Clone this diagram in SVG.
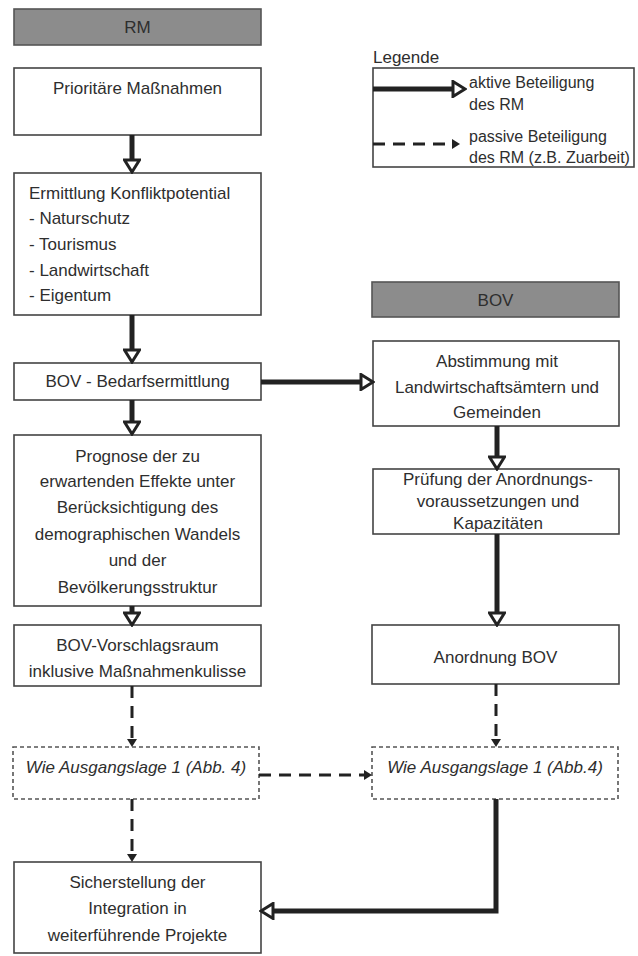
<svg xmlns="http://www.w3.org/2000/svg" width="638" height="956" viewBox="0 0 638 956">
<style>
text{font-family:"Liberation Sans",Arial,sans-serif;font-size:17px;fill:#2e2e2e}
.c{text-anchor:middle}
.it{font-style:italic}
.lg{font-size:16px}
.box{fill:#fff;stroke:#444;stroke-width:1.6}
.hdr{fill:#8c8c8c;stroke:#555;stroke-width:1.6}
.dbox{fill:#fff;stroke:#555;stroke-width:1.6;stroke-dasharray:4 3}
.sol{fill:none;stroke:#222;stroke-width:5;marker-end:url(#ah)}
.das{fill:none;stroke:#222;stroke-width:3;stroke-dasharray:12 8;marker-end:url(#ahd)}
</style>
<defs>
<marker id="ah" markerUnits="userSpaceOnUse" markerWidth="16" markerHeight="18" viewBox="0 0 16 18" refX="2" refY="9" orient="auto">
<path d="M2,1.5 L14,9 L2,16.5 Z" fill="#fff" stroke="#222" stroke-width="3" stroke-linejoin="miter"/>
</marker>
<marker id="ahd" markerUnits="userSpaceOnUse" markerWidth="12" markerHeight="12" viewBox="0 0 12 12" refX="1" refY="6" orient="auto">
<path d="M1,1 L9,6 L1,11 Z" fill="#222"/>
</marker>
</defs>

<g id="rm-header"><rect class="hdr" x="14" y="9" width="247" height="36"/><text class="c" x="137.5" y="33">RM</text></g>
<g id="prioritaere"><rect class="box" x="14" y="68" width="247" height="67"/><text class="c" x="137.5" y="94">Prioritäre Maßnahmen</text></g>
<g id="ermittlung"><rect class="box" x="14" y="173" width="247" height="142"/>
<text x="29" y="199">Ermittlung Konfliktpotential</text>
<text x="29" y="224">- Naturschutz</text>
<text x="29" y="250">- Tourismus</text>
<text x="29" y="276">- Landwirtschaft</text>
<text x="29" y="301">- Eigentum</text></g>
<g id="bedarf"><rect class="box" x="14" y="363" width="247" height="37"/><text class="c" x="137.5" y="387">BOV - Bedarfsermittlung</text></g>
<g id="prognose"><rect class="box" x="14" y="435" width="247" height="171"/>
<text class="c" x="137.5" y="462">Prognose der zu</text>
<text class="c" x="137.5" y="487">erwartenden Effekte unter</text>
<text class="c" x="137.5" y="513">Berücksichtigung des</text>
<text class="c" x="137.5" y="540">demographischen Wandels</text>
<text class="c" x="137.5" y="566">und der</text>
<text class="c" x="137.5" y="593">Bevölkerungsstruktur</text></g>
<g id="vorschlag"><rect class="box" x="14" y="625" width="247" height="61"/>
<text class="c" x="137.5" y="651">BOV-Vorschlagsraum</text>
<text class="c" x="137.5" y="677">inklusive Maßnahmenkulisse</text></g>
<g id="wie-left"><rect class="dbox" x="13" y="747" width="246" height="52"/><text class="c it" x="136" y="773">Wie Ausgangslage 1  (Abb. 4)</text></g>
<g id="sicherstellung"><rect class="box" x="14" y="862" width="247" height="91"/>
<text class="c" x="137.5" y="888">Sicherstellung der</text>
<text class="c" x="137.5" y="914">Integration in</text>
<text class="c" x="137.5" y="941">weiterführende Projekte</text></g>

<g id="legend"><text x="373" y="63">Legende</text>
<rect x="373" y="68" width="261" height="99" fill="none" stroke="#444" stroke-width="1.6"/>
<text class="lg" x="469" y="88">aktive Beteiligung</text>
<text class="lg" x="469" y="110">des RM</text>
<text class="lg" x="469" y="142">passive Beteiligung</text>
<text class="lg" x="469" y="163">des RM (z.B. Zuarbeit)</text></g>

<g id="bov-header"><rect class="hdr" x="372" y="282" width="247" height="35"/><text class="c" x="495.5" y="306">BOV</text></g>
<g id="abstimmung"><rect class="box" x="373" y="341" width="246" height="85"/>
<text class="c" x="497" y="367">Abstimmung mit</text>
<text class="c" x="497" y="393">Landwirtschaftsämtern und</text>
<text class="c" x="497" y="418">Gemeinden</text></g>
<g id="pruefung"><rect class="box" x="373" y="469" width="246" height="65"/>
<text class="c" x="498" y="485">Prüfung der Anordnungs-</text>
<text class="c" x="498" y="507">voraussetzungen und</text>
<text class="c" x="498" y="529">Kapazitäten</text></g>
<g id="anordnung"><rect class="box" x="372" y="625" width="247" height="59"/><text class="c" x="495.5" y="663">Anordnung BOV</text></g>
<g id="wie-right"><rect class="dbox" x="372" y="747" width="246" height="52"/><text class="c it" x="495" y="773">Wie Ausgangslage 1  (Abb.4)</text></g>

<g id="connectors">
<line class="sol" x1="132" y1="135" x2="132" y2="160"/>
<line class="sol" x1="132" y1="315" x2="132" y2="350"/>
<line class="sol" x1="132" y1="400" x2="132" y2="422"/>
<line class="sol" x1="132" y1="606" x2="132" y2="613"/>
<line class="sol" x1="261" y1="382" x2="361" y2="382"/>
<line class="sol" x1="497" y1="426" x2="497" y2="457"/>
<line class="sol" x1="497" y1="534" x2="497" y2="613"/>
<path class="sol" d="M496,799 V911 H273"/>
<line class="das" x1="132" y1="686" x2="132" y2="739"/>
<line class="das" x1="132" y1="799" x2="132" y2="854"/>
<line class="das" x1="259" y1="775" x2="364" y2="775"/>
<line class="das" x1="496" y1="684" x2="496" y2="739"/>
<line class="sol" x1="373" y1="89" x2="453" y2="89"/>
<line class="das" x1="373" y1="144" x2="452" y2="144"/>
</g>
</svg>
